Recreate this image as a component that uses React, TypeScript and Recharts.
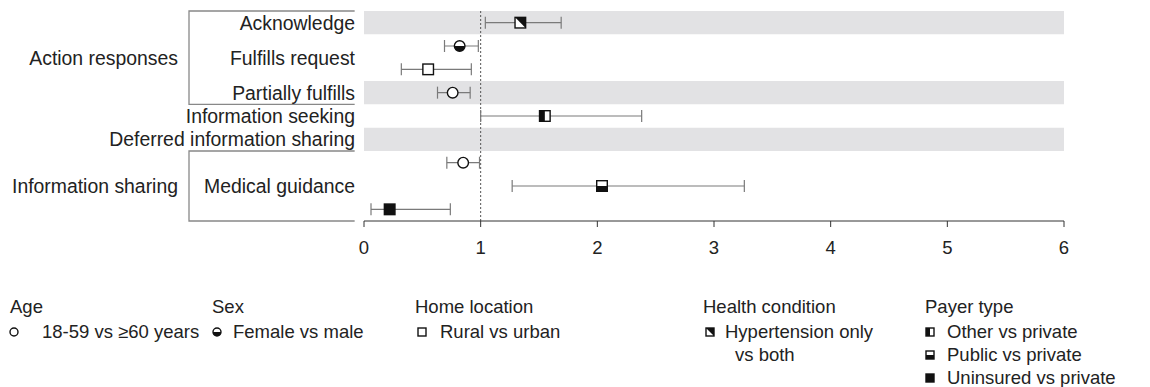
import React from 'react'
import { ScatterChart, Scatter, XAxis, YAxis, ErrorBar, ReferenceArea, ReferenceLine } from 'recharts'

// rows of the forest plot (slot ranges on a 0-9 vertical scale, top to bottom)
const rowLabels = ['Acknowledge', 'Fulfills request', 'Partially fulfills', 'Information seeking', 'Deferred information sharing', 'Medical guidance']
const rowSlots = [[0, 1], [1, 3], [3, 4], [4, 5], [5, 6], [6, 9]]
const shadedRows = [0, 2, 4]

const groupLabels = ['Action responses', 'Information sharing']
const groupSlots = [[0, 4], [6, 9]]

// one entry per estimate
const pointSlot = [0, 1, 2, 3, 4, 6, 7, 8]
const pointKind = ['hyper', 'sex', 'rural', 'age', 'other', 'age', 'public', 'uninsured']
const estimate = [1.34, 0.82, 0.55, 0.76, 1.55, 0.85, 2.04, 0.22]
const ciLow = [1.04, 0.69, 0.32, 0.63, 1.0, 0.71, 1.27, 0.06]
const ciHigh = [1.69, 0.98, 0.92, 0.91, 2.38, 0.99, 3.26, 0.74]

const xTicks = [0, 1, 2, 3, 4, 5, 6]

const legendTitles = ['Age', 'Sex', 'Home location', 'Health condition', 'Payer type']
const legendKinds = [['age'], ['sex'], ['rural'], ['hyper'], ['other', 'public', 'uninsured']]
const legendLabels = [
  ['18-59 vs ≥60 years'],
  ['Female vs male'],
  ['Rural vs urban'],
  ['Hypertension only\nvs both'],
  ['Other vs private', 'Public vs private', 'Uninsured vs private'],
]

const legendColX = [2, 204, 407, 695, 917]
const legendTextX = [32, 21, 25, 22, 22]
const legendMarkX = [-2, -1, 1, 1, -1]

const FONT = '"Liberation Sans", Arial, Helvetica, sans-serif'
const INK = '#111'
const TEXT = '#222'
const LABEL_SIZE = 19.4

const points = estimate.map((v, i) => ({
  x: v,
  y: pointSlot[i] + 0.5,
  kind: pointKind[i],
  err: [v - ciLow[i], ciHigh[i] - v],
}))

const rowCenters = rowSlots.map(([a, b]) => (a + b) / 2)

function Marker({ kind, cx, cy, s }: { kind: string; cx: number; cy: number; s: number }) {
  const sw = 1.4
  if (kind === 'age') return <circle cx={cx} cy={cy} r={s} fill="#fff" stroke={INK} strokeWidth={sw} />
  if (kind === 'sex') {
    return (
      <g>
        <circle cx={cx} cy={cy} r={s} fill="#fff" stroke={INK} strokeWidth={sw} />
        <path d={`M${cx - s},${cy} A${s},${s} 0 0 0 ${cx + s},${cy} Z`} fill={INK} />
      </g>
    )
  }
  const x0 = cx - s
  const y0 = cy - s
  const w = 2 * s
  let part = null
  if (kind === 'hyper') part = <path d={`M${x0},${y0} L${x0 + w},${y0} L${x0 + w},${y0 + w} Z`} fill={INK} />
  if (kind === 'other') part = <rect x={x0} y={y0} width={s} height={w} fill={INK} />
  if (kind === 'public') part = <rect x={x0} y={cy} width={w} height={s} fill={INK} />
  return (
    <g>
      <rect x={x0} y={y0} width={w} height={w} fill={kind === 'uninsured' ? INK : '#fff'} stroke={INK} strokeWidth={sw} />
      {part}
    </g>
  )
}

const RowTick = ({ x, y, payload }: any) => {
  const i = rowCenters.indexOf(payload.value)
  return (
    <text x={x} y={y} dy="0.36em" textAnchor="end" fill={TEXT} fontSize={LABEL_SIZE} fontFamily={FONT}>
      {rowLabels[i]}
    </text>
  )
}

const bracketShape = (label: string) => (p: any) => {
  const { x, y, width, height } = p
  return (
    <g>
      <path d={`M${x + width},${y} H${x} V${y + height} H${x + width}`} fill="none" stroke="#888" strokeWidth={1.3} />
      <text x={x - 11} y={y + height / 2} dy="0.36em" textAnchor="end" fill={TEXT} fontSize={LABEL_SIZE} fontFamily={FONT}>
        {label}
      </text>
    </g>
  )
}

export default function App() {
  return (
    <div style={{ width: 1150, height: 387, padding: 8, boxSizing: 'border-box', overflow: 'hidden' }}>
      <style>{'html,body{margin:0;overflow:hidden}'}</style>
      <div style={{ position: 'relative', width: 1134, height: 371, fontFamily: FONT, color: TEXT }}>
        <ScatterChart width={1134} height={255} margin={{ top: 3, right: 78, bottom: 0, left: 0 }}>
          <XAxis
            type="number"
            dataKey="x"
            domain={[0, 6]}
            ticks={xTicks}
            interval={0}
            height={42}
            tickSize={6}
            tickMargin={14}
            stroke="#333"
            tick={{ fill: TEXT, fontSize: 18.5, fontFamily: FONT }}
          />
          <YAxis
            type="number"
            dataKey="y"
            domain={[0, 9]}
            reversed
            width={356}
            ticks={rowCenters}
            interval={0}
            axisLine={false}
            tickLine={false}
            tickSize={9}
            tickMargin={0}
            tick={<RowTick />}
          />
          {shadedRows.map(r => (
            <ReferenceArea key={r} x1={0} x2={6} y1={rowSlots[r][0]} y2={rowSlots[r][1]} fill="#e2e2e4" fillOpacity={1} stroke="none" />
          ))}
          {groupLabels.map((g, i) => (
            <ReferenceArea
              key={g}
              x1={-1.5}
              x2={-0.08}
              y1={groupSlots[i][0]}
              y2={groupSlots[i][1]}
              ifOverflow="visible"
              shape={bracketShape(g)}
            />
          ))}
          <ReferenceLine x={1} stroke="#555" strokeDasharray="2 2" strokeWidth={1} />
          <Scatter
            data={points}
            isAnimationActive={false}
            shape={(p: any) => <Marker kind={p.payload.kind} cx={p.cx} cy={p.cy} s={5.3} />}
          >
            <ErrorBar dataKey="err" direction="x" width={6} stroke="#7a7a7a" strokeWidth={1.2} isAnimationActive={false} />
          </Scatter>
        </ScatterChart>

        <div style={{ position: 'absolute', top: 287, left: 0, fontSize: 18.5 }}>
          {legendTitles.map((t, i) => (
            <div key={t} style={{ position: 'absolute', left: legendColX[i], top: 0, whiteSpace: 'nowrap' }}>
              <div style={{ height: 24.5, lineHeight: '23px' }}>{t}</div>
              {legendLabels[i].map((label, j) => {
                const lines = label.split('\n')
                return (
                  <div key={label} style={{ position: 'relative', lineHeight: '23px' }}>
                    <svg width={12} height={23} style={{ position: 'absolute', left: legendMarkX[i], top: 0 }}>
                      <Marker kind={legendKinds[i][j]} cx={6} cy={12} s={4} />
                    </svg>
                    {lines.map((ln, k) => (
                      <div key={k} style={{ paddingLeft: legendTextX[i] + (k > 0 ? 10 : 0) }}>{ln}</div>
                    ))}
                  </div>
                )
              })}
            </div>
          ))}
        </div>
      </div>
    </div>
  )
}
